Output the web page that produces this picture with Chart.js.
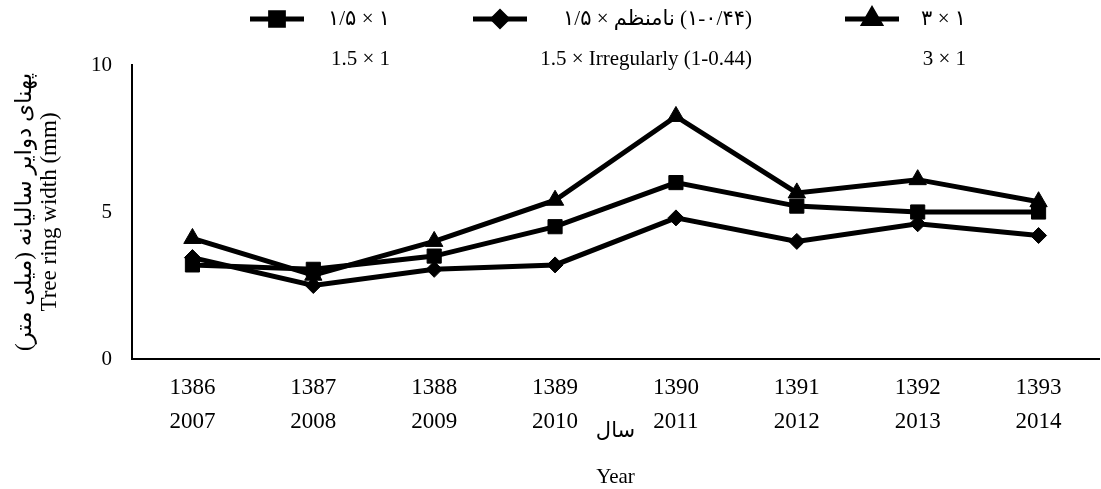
<!DOCTYPE html>
<html>
<head>
<meta charset="utf-8">
<script src="https://cdn.jsdelivr.net/npm/chart.js@4.4.1/dist/chart.umd.min.js"></script>
<style>
  html, body { margin: 0; padding: 0; background: #fff; overflow: hidden; }
  #chart { display: block; }
</style>
</head>
<body>
<canvas id="chart" width="1110" height="489"></canvas>
<script>
// categories (solar hijri year / gregorian year)
const yearsShamsi = ['1386', '1387', '1388', '1389', '1390', '1391', '1392', '1393'];
const yearsGregorian = ['2007', '2008', '2009', '2010', '2011', '2012', '2013', '2014'];

// tree ring width (mm) per spacing treatment
const spacing15x1 = [3.2, 3.05, 3.5, 4.5, 6.0, 5.2, 5.0, 5.0];
const spacingIrregular = [3.45, 2.5, 3.05, 3.2, 4.8, 4.0, 4.6, 4.2];
const spacing3x1 = [4.1, 2.85, 4.0, 5.4, 8.25, 5.65, 6.1, 5.35];

// legend labels: persian line, english line
const seriesFa = ['۱/۵ × ۱', '۱/۵ × نامنظم\u200E (۱-۰/۴۴)', '۳ × ۱'];
const seriesEn = ['1.5 × 1', '1.5 × Irregularly (1-0.44)', '3 × 1'];

const yTicks = [0, 5, 10];
const yTitle = ['پهنای دوایر سالیانه (میلی متر)\u200F', 'Tree ring width (mm)'];
const xTitle = ['سال', '', 'Year'];

const serif = "'Liberation Serif', 'Times New Roman', 'DejaVu Sans', serif";
const labels = yearsShamsi.map((y, i) => [y, yearsGregorian[i]]);

// legend symbol centre x, text right edge x
const legendSlots = [
  { sym: 277, text: 390 },
  { sym: 500, text: 752 },
  { sym: 872, text: 966 }
];

const topLegend = {
  id: 'topLegend',
  afterDraw(chart) {
    const { ctx } = chart;
    ctx.save();
    chart.data.datasets.forEach((ds, i) => {
      const slot = legendSlots[i];
      const y = 19;
      ctx.strokeStyle = '#000';
      ctx.lineWidth = 5;
      ctx.beginPath();
      ctx.moveTo(slot.sym - 27, y);
      ctx.lineTo(slot.sym + 27, y);
      ctx.stroke();
      ctx.fillStyle = '#000';
      Chart.helpers.drawPoint(ctx, {
        pointStyle: ds.pointStyle,
        radius: ds.pointRadius - 1,
        rotation: 0,
        borderWidth: 1
      }, slot.sym, y);
      ctx.textAlign = 'right';
      ctx.textBaseline = 'middle';
      ctx.font = `21px ${serif}`;
      ctx.fillText(seriesFa[i], slot.text, y);
      ctx.fillText(seriesEn[i], slot.text, 59);
    });
    ctx.restore();
  }
};

function lineSeries(label, data, style, radius) {
  return {
    label,
    data,
    borderColor: '#000',
    backgroundColor: '#000',
    borderWidth: 5,
    pointStyle: style,
    pointRadius: radius,
    pointBorderWidth: 1,
    pointBackgroundColor: '#000',
    pointBorderColor: '#000',
    tension: 0,
    fill: false
  };
}

new Chart(document.getElementById('chart'), {
  type: 'line',
  data: {
    labels,
    datasets: [
      lineSeries(seriesEn[0], spacing15x1, 'rect', 10),
      lineSeries(seriesEn[1], spacingIrregular, 'rectRot', 8),
      lineSeries(seriesEn[2], spacing3x1, 'triangle', 10)
    ]
  },
  options: {
    responsive: false,
    animation: false,
    layout: { padding: { top: 65, right: 2, bottom: 0, left: 0 } },
    plugins: {
      legend: { display: false },
      tooltip: { enabled: false }
    },
    scales: {
      x: {
        offset: true,
        grid: { display: false, drawTicks: false },
        border: { display: true, color: '#000', width: 2 },
        ticks: {
          color: '#000',
          font: { family: serif, size: 23, lineHeight: 1.48 },
          padding: 12,
          maxRotation: 0,
          autoSkip: false
        },
        title: {
          display: true,
          text: xTitle,
          color: '#000',
          font: { family: serif, size: 21, lineHeight: 1.1 },
          padding: { top: 0, bottom: 0 }
        },
        afterFit(scale) { scale.height = 130; }
      },
      y: {
        min: 0,
        max: 10,
        afterBuildTicks(scale) { scale.ticks = yTicks.map((v) => ({ value: v })); },
        grid: { display: false, drawTicks: false },
        border: { display: true, color: '#000', width: 2 },
        ticks: {
          color: '#000',
          font: { family: serif, size: 21 },
          padding: 20
        },
        title: {
          display: true,
          text: yTitle,
          color: '#000',
          font: { family: serif, size: 23, lineHeight: 1.1 },
          padding: { top: 12, bottom: 0 }
        },
        afterFit(scale) { scale.width = 132; }
      }
    }
  },
  plugins: [topLegend]
});
</script>
</body>
</html>
